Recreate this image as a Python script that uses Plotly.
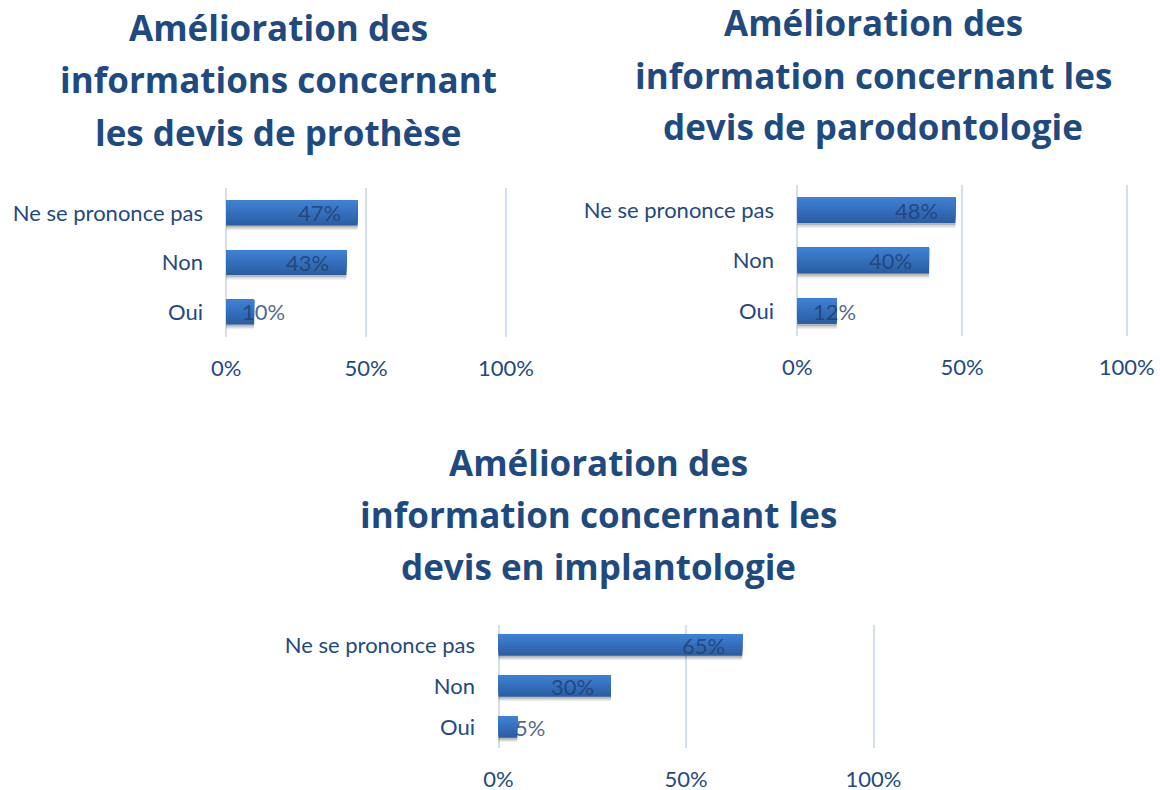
import plotly.graph_objects as go

# Survey answers (share of respondents) for three quote-information questions
categories = ["Oui", "Non", "Ne se prononce pas"]

prothese_values = [0.10, 0.43, 0.47]
parodontologie_values = [0.12, 0.40, 0.48]
implantologie_values = [0.05, 0.30, 0.65]

prothese_title = ["Amélioration des", "informations concernant", "les devis de prothèse"]
parodontologie_title = ["Amélioration des", "information concernant les", "devis de parodontologie"]
implantologie_title = ["Amélioration des", "information concernant les", "devis en implantologie"]

tick_values = [0, 0.5, 1.0]
tick_labels = ["0%", "50%", "100%"]

FONT = "Lato"
TITLE_FONT = "Open Sans"
TEXT_BLUE = "#1F4A7F"
LABEL_BLUE = "rgba(30,62,110,0.80)"
GRID = "#D3DFEF"

# vertical shading of each bar, from bottom band to top band
BAR_TOP = (0x3E, 0x80, 0xD4)
BAR_BOTTOM = (0x2B, 0x5E, 0xA3)
N_BANDS = 10


def band_color(k):
    t = k / (N_BANDS - 1)
    r, g, b = (round(lo + (hi - lo) * t) for lo, hi in zip(BAR_BOTTOM, BAR_TOP))
    return f"rgb({r},{g},{b})"


panels = [
    # values, title lines, x domain, y domain, bar width, title centre x, title line y (px)
    dict(values=prothese_values, title=prothese_title,
         xd=[225 / 1160, 507 / 1160], yd=[1 - 336.75 / 790, 1 - 188.25 / 790],
         width=0.5, tx=278 / 1160, ty=[28, 80, 132]),
    dict(values=parodontologie_values, title=parodontologie_title,
         xd=[796 / 1160, 1128 / 1160], yd=[1 - 336.25 / 790, 1 - 184.75 / 790],
         width=0.51, tx=873 / 1160, ty=[22, 75, 127]),
    dict(values=implantologie_values, title=implantologie_title,
         xd=[497 / 1160, 875 / 1160], yd=[1 - 747.5 / 790, 1 - 624.5 / 790],
         width=0.53, tx=598 / 1160, ty=[462, 514, 566]),
]

fig = go.Figure()
annotations = []
layout_axes = {}

for i, p in enumerate(panels, start=1):
    xa = "x" if i == 1 else f"x{i}"
    ya = "y" if i == 1 else f"y{i}"
    w = p["width"]

    # soft drop shadow under each bar
    for sh, alpha in ((0.10, 0.07), (0.07, 0.10), (0.04, 0.14)):
        fig.add_trace(go.Bar(
            x=p["values"], y=categories, orientation="h",
            xaxis=xa, yaxis=ya, width=w, offset=-w / 2 - sh,
            marker=dict(color=f"rgba(0,0,0,{alpha})", line=dict(width=0)),
            hoverinfo="skip", showlegend=False,
        ))

    # bar body: each layer runs from its own start up to the top edge,
    # lighter layers stacked over darker ones for a top-to-bottom shade
    for k in range(N_BANDS):
        start = -w / 2 + k * w / N_BANDS
        fig.add_trace(go.Bar(
            x=p["values"], y=categories, orientation="h",
            xaxis=xa, yaxis=ya, width=w / 2 - start,
            offset=start,
            marker=dict(color=band_color(k), line=dict(width=0)),
            hoverinfo="skip", showlegend=False,
        ))

    # value labels: at the inner end of long bars, from the base of short ones
    for cat, v in zip(categories, p["values"]):
        if v >= 0.2:
            annotations.append(dict(
                x=v, y=cat, xref=xa, yref=ya, text=f"{round(v * 100)}%",
                showarrow=False, xanchor="right", xshift=-15,
                font=dict(family=FONT, size=22, color=LABEL_BLUE),
            ))
        else:
            annotations.append(dict(
                x=0, y=cat, xref=xa, yref=ya, text=f"{round(v * 100)}%",
                showarrow=False, xanchor="left", xshift=14,
                font=dict(family=FONT, size=22, color=LABEL_BLUE),
            ))

    # chart title, one annotation per line
    for line, py in zip(p["title"], p["ty"]):
        annotations.append(dict(
            x=p["tx"], y=1 - py / 790, xref="paper", yref="paper",
            text=f"<b>{line}</b>", showarrow=False,
            xanchor="center", yanchor="middle",
            font=dict(family=TITLE_FONT, size=35, color=TEXT_BLUE),
        ))

    key = "" if i == 1 else str(i)
    layout_axes[f"xaxis{key}"] = dict(
        domain=p["xd"], anchor=ya, range=[-0.004, 1.004],
        tickvals=tick_values, ticktext=tick_labels,
        showgrid=True, gridcolor=GRID, gridwidth=2,
        zeroline=False, showline=False, ticks="",
        ticklabelstandoff=16, automargin=False,
        tickfont=dict(family=FONT, size=22, color=TEXT_BLUE),
        fixedrange=True,
    )
    layout_axes[f"yaxis{key}"] = dict(
        domain=p["yd"], anchor=xa, range=[-0.5, 2.5],
        categoryorder="array", categoryarray=categories,
        showgrid=False, zeroline=False, showline=False, ticks="",
        ticklabelstandoff=21, automargin=False,
        tickfont=dict(family=FONT, size=22, color=TEXT_BLUE),
        fixedrange=True,
    )

fig.update_layout(
    width=1160, height=790,
    margin=dict(l=0, r=0, t=0, b=0, autoexpand=False),
    paper_bgcolor="white", plot_bgcolor="white",
    annotations=annotations,
    barmode="overlay",
    **layout_axes,
)

fig.write_html("out.html", config={"displayModeBar": False})
